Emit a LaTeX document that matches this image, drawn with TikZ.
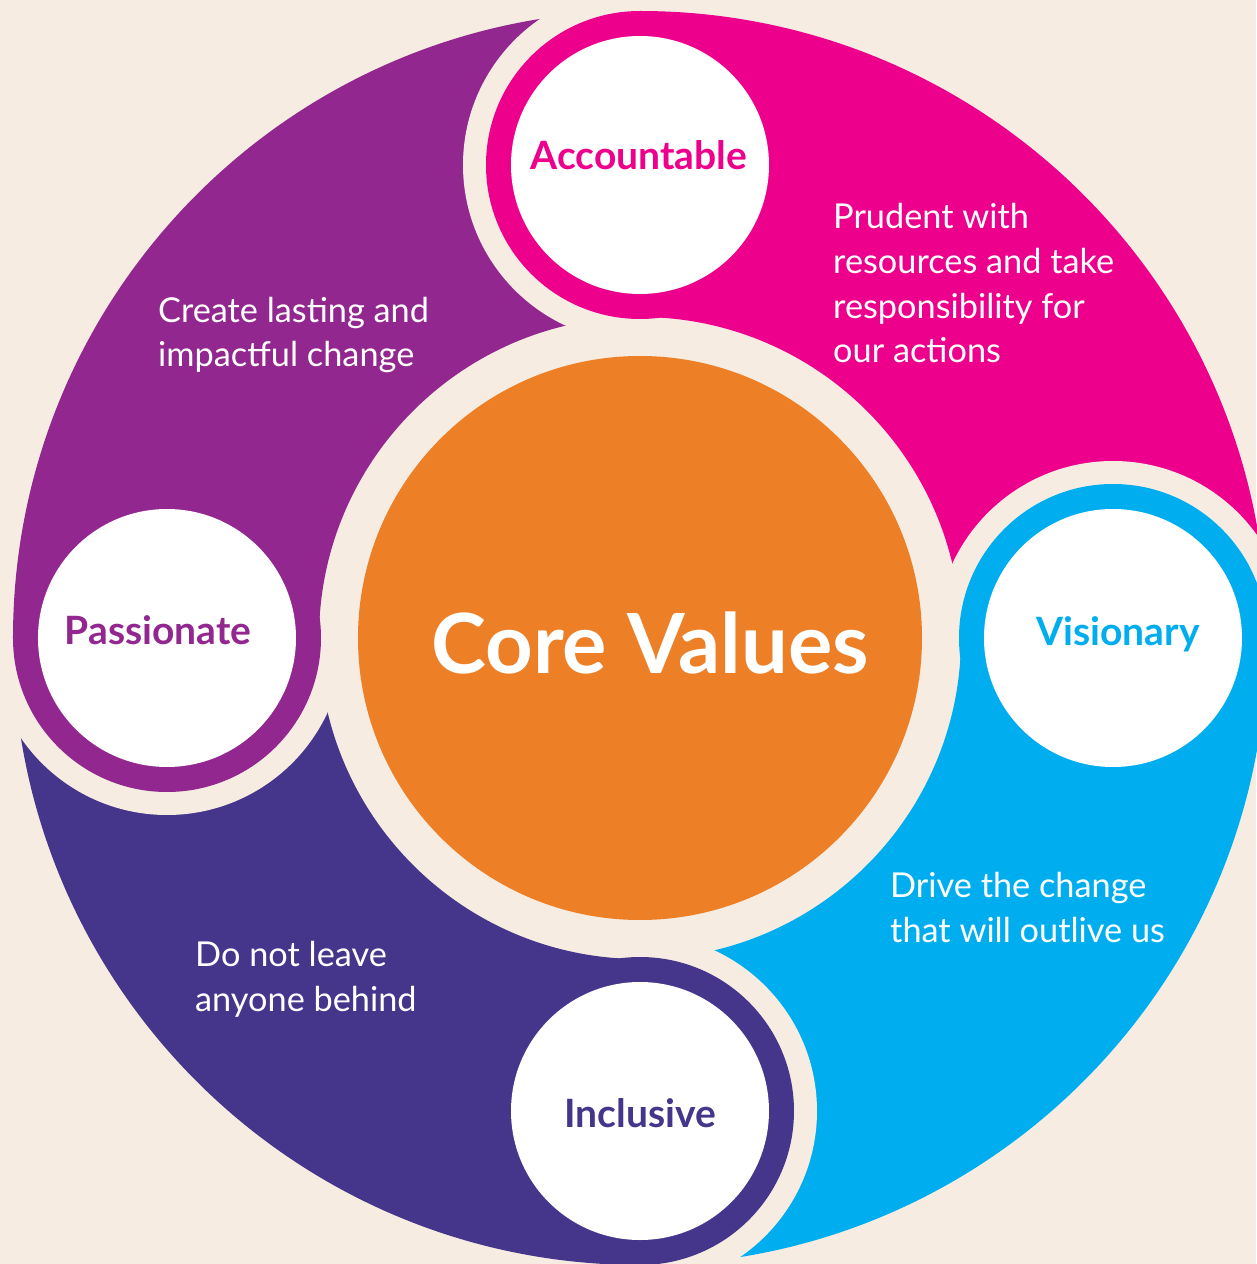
\documentclass[tikz,border=0pt]{standalone}
\usepackage{fontspec}
\setmainfont{Lato}
\definecolor{bgc}{RGB}{246,236,226}
\definecolor{magc}{RGB}{236,0,140}
\definecolor{cyanc}{RGB}{0,174,239}
\definecolor{indc}{RGB}{69,54,139}
\definecolor{purc}{RGB}{146,39,143}
\definecolor{orc}{RGB}{237,128,38}
\tikzset{
  ringdisk/.style={circle, minimum size=308, inner sep=0pt, draw=none},
  whitedisk/.style={circle, minimum size=258, inner sep=0pt, fill=white, draw=none},
  cutdisk/.style={circle, minimum size=354, inner sep=0pt, fill=bgc, draw=none},
  headlabel/.style={font=\bfseries\fontsize{39}{42}\selectfont, inner sep=0pt, anchor=base},
  bodytext/.style={font=\fontsize{34.3}{44.7}\selectfont, text=white, align=left, inner sep=0pt, anchor=base west},
}
\begin{document}
\begin{tikzpicture}[x=1pt,y=1pt]
\useasboundingbox (-640,-626) rectangle (616,638);
\fill[bgc] (-640,-626) rectangle (616,638);
% central circle
\node[circle, minimum size=564, inner sep=0pt, fill=orc] (core) at (0,0) {};
% sectors
\fill[magc] (90:627) arc[start angle=90, end angle=0, radius=627] -- (0:321) arc[start angle=0, end angle=90, radius=321] -- cycle;
\fill[cyanc] (0:627) arc[start angle=0, end angle=-90, radius=627] -- (-90:321) arc[start angle=-90, end angle=0, radius=321] -- cycle;
\fill[indc] (-90:627) arc[start angle=-90, end angle=-180, radius=627] -- (-180:321) arc[start angle=-180, end angle=-90, radius=321] -- cycle;
\fill[purc] (180:627) arc[start angle=180, end angle=90, radius=627] -- (90:321) arc[start angle=90, end angle=180, radius=321] -- cycle;
% cuts of each tail by the gap round the next head
\begin{scope}
\clip (90:640) arc[start angle=90, end angle=0, radius=640] -- (0:300) arc[start angle=0, end angle=90, radius=300] -- cycle;
\node[cutdisk] (cutv) at (0:473) {};
\end{scope}
\begin{scope}
\clip (0:640) arc[start angle=0, end angle=-90, radius=640] -- (-90:300) arc[start angle=-90, end angle=0, radius=300] -- cycle;
\node[cutdisk] (cuti) at (-90:473) {};
\end{scope}
\begin{scope}
\clip (-90:640) arc[start angle=-90, end angle=-180, radius=640] -- (-180:300) arc[start angle=-180, end angle=-90, radius=300] -- cycle;
\node[cutdisk] (cutp) at (180:473) {};
\end{scope}
\begin{scope}
\clip (180:640) arc[start angle=180, end angle=90, radius=640] -- (90:300) arc[start angle=90, end angle=180, radius=300] -- cycle;
\node[cutdisk] (cuta) at (90:473) {};
\end{scope}
% heads
\node[ringdisk, fill=magc] (ringa) at (90:473) {};
\node[ringdisk, fill=cyanc] (ringv) at (0:473) {};
\node[ringdisk, fill=indc] (ringi) at (-90:473) {};
\node[ringdisk, fill=purc] (ringp) at (180:473) {};
\node[whitedisk] (wa) at (90:473) {};
\node[whitedisk] (wv) at (0:473) {};
\node[whitedisk] (wi) at (-90:473) {};
\node[whitedisk] (wp) at (180:473) {};
% labels
\node[headlabel, text=magc] (la) at (-1,468) {Accountable};
\node[headlabel, text=cyanc] (lv) at (478,-7) {Visionary};
\node[headlabel, text=indc] (li) at (0,-489) {Inclusive};
\node[headlabel, text=purc] (lp) at (-482,-6) {Passionate};
\node[font=\bfseries\fontsize{83}{86}\selectfont, text=white, inner sep=0pt, anchor=base] (lc) at (10,-35) {Core Values};
% descriptions (anchor at the baseline of the last line)
\node[bodytext] (da) at (193,275) {Prudent with\\resources and take\\responsibility for\\our actions};
\node[bodytext] (dp) at (-482,271) {Create lasting and\\impactful change};
\node[bodytext] (dv) at (250,-304) {Drive the change\\that will outlive us};
\node[bodytext] (di) at (-445,-373) {Do not leave\\anyone behind};
\end{tikzpicture}
\end{document}
